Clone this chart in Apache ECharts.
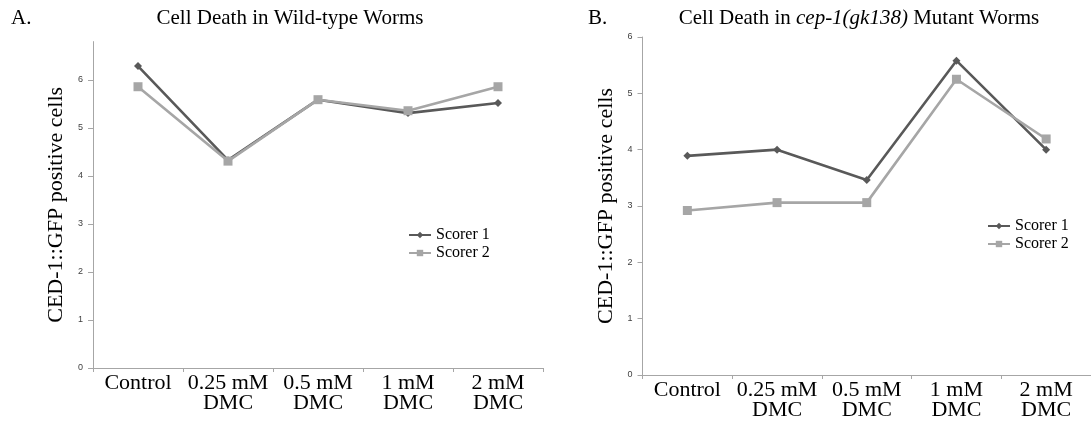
<!DOCTYPE html>
<html>
<head>
<meta charset="utf-8">
<script src="https://cdn.jsdelivr.net/npm/echarts@6/dist/echarts.min.js"></script>
<style>
  html, body { margin: 0; padding: 0; background: #fff; }
  #chart { width: 1091px; height: 421px; }
</style>
</head>
<body>
<div id="chart"></div>
<script>
// Treatment groups along the x axis
const categories = ['Control', '0.25 mM\nDMC', '0.5 mM\nDMC', '1 mM\nDMC', '2 mM\nDMC'];

// CED-1::GFP positive cells, wild-type worms
const wildScorer1 = [6.29, 4.33, 5.59, 5.31, 5.52];
const wildScorer2 = [5.86, 4.31, 5.59, 5.36, 5.86];

// CED-1::GFP positive cells, cep-1(gk138) mutant worms
const mutantScorer1 = [3.89, 4.00, 3.46, 5.58, 4.00];
const mutantScorer2 = [2.92, 3.06, 3.06, 5.25, 4.19];

// Labelled y-axis ticks
const yTicks = [0, 1, 2, 3, 4, 5, 6];

const serif = 'Liberation Serif, Times New Roman, serif';
const axisGray = '#a6a6a6';
const dark = '#595959';
const light = '#a6a6a6';

function xAxisFor(gridIndex) {
  return {
    type: 'category',
    gridIndex: gridIndex,
    data: categories,
    boundaryGap: true,
    axisLine: { lineStyle: { color: axisGray, width: 1 } },
    axisTick: { show: true, length: 4, lineStyle: { color: axisGray } },
    axisLabel: {
      interval: 0,
      margin: 5,
      color: '#000',
      fontFamily: serif,
      fontSize: 22,
      lineHeight: 20
    },
    splitLine: { show: false }
  };
}

function yAxisFor(gridIndex, max, nameGap) {
  return {
    type: 'value',
    gridIndex: gridIndex,
    min: 0,
    max: max,
    interval: 1,
    name: 'CED-1::GFP positive cells',
    nameLocation: 'middle',
    nameGap: nameGap,
    nameTextStyle: { color: '#000', fontFamily: serif, fontSize: 22 },
    axisLine: { show: true, lineStyle: { color: axisGray, width: 1 } },
    axisTick: { show: true, length: 5, customValues: yTicks, lineStyle: { color: axisGray } },
    axisLabel: {
      customValues: yTicks,
      margin: 10,
      color: '#404040',
      fontFamily: 'Liberation Sans, Arial, sans-serif',
      fontSize: 9
    },
    splitLine: { show: false }
  };
}

function seriesFor(name, data, idx, color, symbol, size) {
  return {
    name: name,
    type: 'line',
    xAxisIndex: idx,
    yAxisIndex: idx,
    data: data,
    symbol: symbol,
    symbolSize: size,
    showAllSymbol: true,
    lineStyle: { color: color, width: 2.6 },
    itemStyle: { color: color },
    emphasis: { disabled: true },
    animation: false
  };
}

const legendText = { color: '#000', fontFamily: serif, fontSize: 16, lineHeight: 16 };
const titleText = { fontFamily: serif, fontSize: 21, fontWeight: 'normal', color: '#000' };

const option = {
  backgroundColor: '#fff',
  animation: false,
  title: [
    { text: 'A.', left: 6, top: 3, textStyle: titleText },
    { text: 'Cell Death in Wild-type Worms', left: 285, top: 3, textAlign: 'center', textStyle: titleText },
    { text: 'B.', left: 583, top: 3, textStyle: titleText },
    { text: 'Cell Death in {i|cep-1(gk138)} Mutant Worms', left: 854, top: 3, textAlign: 'center',
      textStyle: Object.assign({}, titleText, {
        rich: { i: { fontFamily: serif, fontSize: 21, fontStyle: 'italic', color: '#000' } }
      }) }
  ],
  grid: [
    { left: 93, top: 41.6, width: 450, bottom: 53 },
    { left: 642.5, top: 37, width: 454, bottom: 46 }
  ],
  legend: [
    { data: ['Scorer 1', 'Scorer 2'], orient: 'vertical', left: 408, top: 227, padding: 0,
      itemWidth: 22, itemHeight: 8, itemGap: 2, textStyle: legendText, selectedMode: false },
    { data: ['Scorer 1', 'Scorer 2'], orient: 'vertical', left: 987, top: 218, padding: 0,
      itemWidth: 22, itemHeight: 8, itemGap: 2, textStyle: legendText, selectedMode: false }
  ],
  xAxis: [xAxisFor(0), xAxisFor(1)],
  yAxis: [yAxisFor(0, 6.8, 26), yAxisFor(1, 6, 25)],
  series: [
    seriesFor('Scorer 1', wildScorer1, 0, dark, 'diamond', 8),
    seriesFor('Scorer 2', wildScorer2, 0, light, 'rect', 9),
    seriesFor('Scorer 1', mutantScorer1, 1, dark, 'diamond', 8),
    seriesFor('Scorer 2', mutantScorer2, 1, light, 'rect', 9)
  ]
};

const chart = echarts.init(document.getElementById('chart'), null, { renderer: 'canvas' });
chart.setOption(option);
</script>
</body>
</html>
